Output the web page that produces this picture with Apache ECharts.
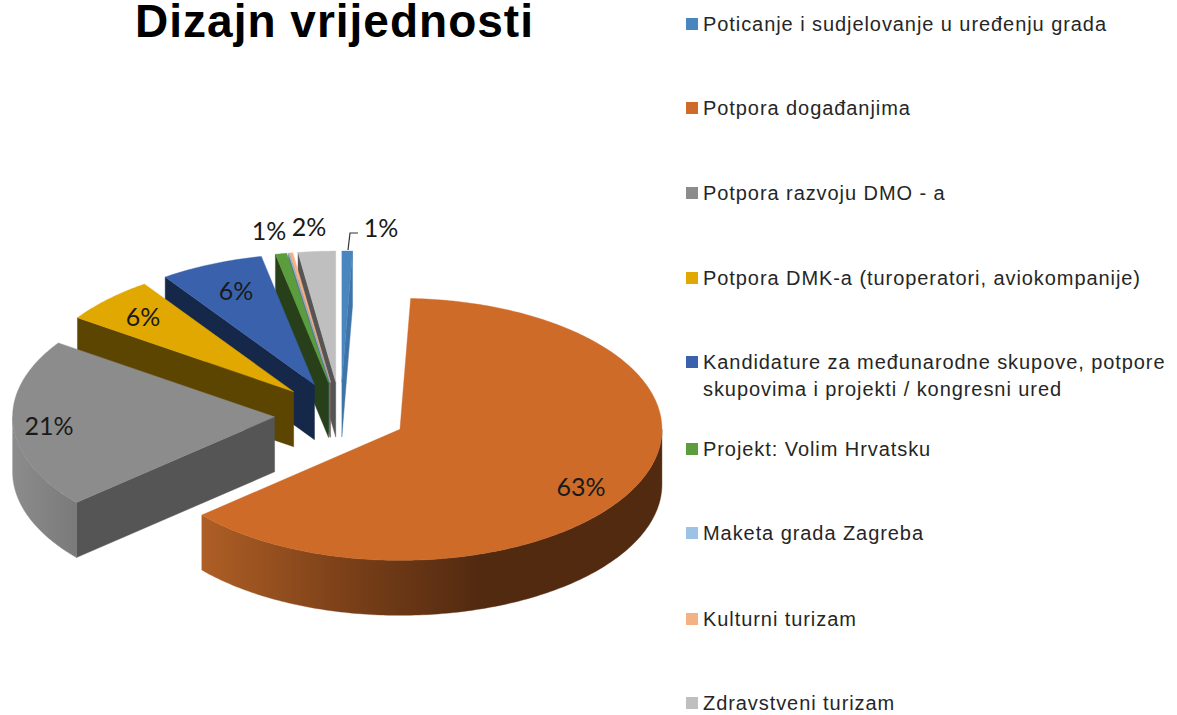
<!DOCTYPE html>
<html><head><meta charset="utf-8">
<style>html,body{margin:0;padding:0;background:#fff}#c{width:1177px;height:715px}
#c svg text[style*="20px"]{letter-spacing:0.93px}
#c svg text[style*="46px"]{letter-spacing:1px}
</style>
<script src="https://cdn.jsdelivr.net/npm/echarts@6/dist/echarts.min.js"></script>
</head><body><div id="c"></div>
<script>
const chartTitle = 'Dizajn vrijednosti';
const categories = [
  'Poticanje i sudjelovanje u uređenju grada',
  'Potpora događanjima',
  'Potpora razvoju DMO - a',
  'Potpora DMK-a (turoperatori, aviokompanije)',
  'Kandidature za međunarodne skupove, potpore\nskupovima i projekti / kongresni ured',
  'Projekt: Volim Hrvatsku',
  'Maketa grada Zagreba',
  'Kulturni turizam',
  'Zdravstveni turizam'
];
const shares = [0.65, 63, 20.9, 5.8, 6.4, 0.7, 0.05, 0.2, 2.3];
const topColors = ['#4A86BE','#CE6B28','#8C8C8C','#E0A800','#3A62AC','#5B9C3D','#9CC2E5','#F4B183','#BFBFBF'];
const wallColors = ['#3F74A8','#54290F','#555555','#5C4500','#16284A','#27401A','#5A7690','#8A6048','#555555'];

// layout of the tilted pie
const cx = 340.5, cy = 415, rx = 262, ry = 131, depth = 55, explode = 66;
const labelPos = {0:[381,227],1:[581,486],2:[49,425],3:[143,316],4:[236,290],5:[269,230],8:[309,226]};
const legendTops = [24,108,193,278,362,449,533,619,703];
const drawOrder = [0,8,7,6,5,4,3,2,1];

const total = shares.reduce((a,b)=>a+b,0);
const startAngles = [];
shares.reduce((acc,v,i)=>{startAngles[i]=acc/total*2*Math.PI;return acc+v;},0);

function rim(ax, ay, t){ return [ax+rx*Math.sin(t), ay-ry*Math.cos(t)]; }

function wallFill(i){
  if(i===1) return {type:'linear',global:true,x:203,y:0,x2:480,y2:0,colorStops:[
    {offset:0,color:'#AE5E25'},{offset:0.5,color:'#7C4119'},{offset:1,color:'#522A10'}]};
  if(i===2) return {type:'linear',global:true,x:12,y:0,x2:77,y2:0,colorStops:[
    {offset:0,color:'#8C8C8C'},{offset:1,color:'#7A7A7A'}]};
  return wallColors[i];
}

function renderSlice(i, value){
  const a0 = startAngles[i], a1 = a0 + value/total*2*Math.PI, mid=(a0+a1)/2;
  const ax = cx + explode*Math.sin(mid), ay = cy - explode*0.5*Math.cos(mid);
  const children = [];
  const poly = (pts, fill) => children.push({type:'polygon',shape:{points:pts},
    style:{fill:fill,stroke:fill,lineWidth:0.4}});
  const arc = [];
  const n = Math.max(2,Math.ceil((a1-a0)/0.015));
  for(let k=0;k<=n;k++) arc.push(rim(ax,ay,a0+(a1-a0)*k/n));

  // radial walls: start edge faces the viewer on the left, end edge on the right
  if(Math.sin(a1)>0){
    const p=rim(ax,ay,a1);
    poly([[ax,ay],p,[p[0],p[1]+depth],[ax,ay+depth]],wallColors[i]);
  }
  if(Math.sin(a0)<0){
    const p=rim(ax,ay,a0);
    poly([[ax,ay],p,[p[0],p[1]+depth],[ax,ay+depth]],wallColors[i]);
  }
  // outer curved wall (front half only)
  const fl=Math.max(a0,Math.PI/2), fh=Math.min(a1,1.5*Math.PI);
  if(fh>fl){
    const up=[],down=[];
    const m=Math.ceil((fh-fl)/0.015);
    for(let k=0;k<=m;k++){
      const p=rim(ax,ay,fl+(fh-fl)*k/m);
      up.push(p);down.unshift([p[0],p[1]+depth]);
    }
    poly(up.concat(down),wallFill(i));
  }
  // top face
  poly([[ax,ay]].concat(arc),topColors[i]);
  // percent label
  if(labelPos[i]){
    children.push({type:'text',style:{text:Math.round(value)+'%',x:labelPos[i][0],y:labelPos[i][1],
      align:'center',verticalAlign:'middle',fill:'#1a1a1a',font:'25px Lato'}});
  }
  if(i===0){
    children.push({type:'polyline',shape:{points:[[348,250],[350,233],[358,233]]},
      style:{stroke:'#333333',lineWidth:1.2,fill:null}});
  }
  return {type:'group',children};
}

const series = drawOrder.map((i,order)=>({
  type:'custom',
  name:categories[i],
  coordinateSystem:'none',
  z:2+order,
  silent:true,
  animation:false,
  itemStyle:{color:topColors[i]},
  data:[[shares[i]]],
  renderItem:(params,api)=>renderSlice(i,api.value(0))
}));

const legends = categories.map((name,i)=>{
  const twoLine = name.indexOf('\n')>=0;
  return {
    data:[{name:name,icon:'rect'}],
    left:681, top: legendTops[i]-(twoLine?40.5:13.5)-5,
    padding:5,
    itemWidth:12,itemHeight:12,itemGap:5,
    selectedMode:false,
    formatter:n=>(twoLine?'\n':'')+n,
    textStyle:{fontFamily:'Liberation Sans',fontSize:20,color:'#262626',lineHeight:27}
  };
});

const chart = echarts.init(document.getElementById('c'),null,{renderer:'svg'});
chart.setOption({
  backgroundColor:'#fff',
  animation:false,
  title:{text:chartTitle,left:334.5,textAlign:'center',top:0,padding:0,
    textStyle:{fontFamily:'Liberation Sans',fontWeight:'bold',fontSize:46,color:'#000',lineHeight:41}},
  legend:legends,
  series:series
});
</script></body></html>
